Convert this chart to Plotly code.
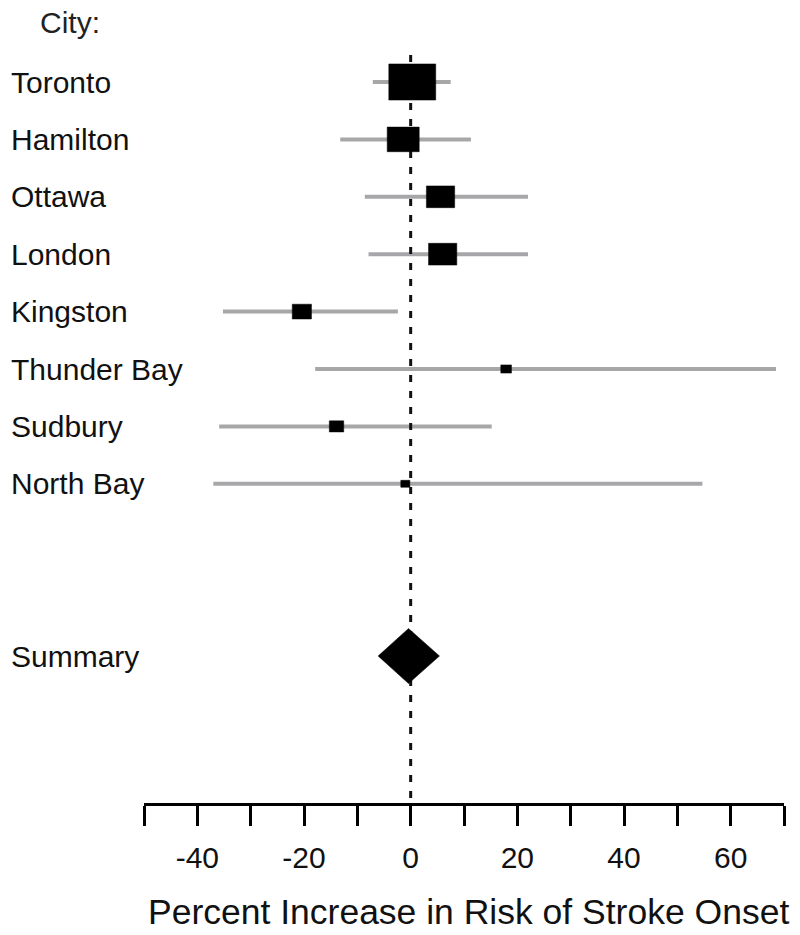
import plotly.graph_objects as go

# ---------------- data ----------------
cities = ["Toronto", "Hamilton", "Ottawa", "London", "Kingston",
          "Thunder Bay", "Sudbury", "North Bay"]
estimate = [0.3, -1.4, 5.6, 6.0, -20.4, 17.9, -13.9, -1.0]
ci_low = [-7.1, -13.2, -8.6, -7.9, -35.2, -17.9, -35.9, -37.0]
ci_high = [7.5, 11.3, 22.0, 22.0, -2.4, 68.5, 15.2, 54.7]
weight = [8.8, 6.0, 5.3, 5.3, 3.6, 2.0, 2.7, 1.7]   # box width, percent units

summary_label = "Summary"
summary_est = -0.4
summary_low = -6.1
summary_high = 5.4

tick_values = [-50, -40, -30, -20, -10, 0, 10, 20, 30, 40, 50, 60, 70]
tick_labels = ["", "-40", "", "-20", "", "0", "", "20", "", "40", "", "60", ""]

x_title = "Percent Increase in Risk of Stroke Onset"
header = "City:"

# ---------------- layout constants ----------------
W, H = 800, 935
L, R, B, T = 144, 16, 132, 0
plot_h = H - B - T           # 803
row_px = 57.4
first_row_px = 82
rows = list(range(1, len(cities) + 1))
summary_row = len(cities) + 3
y_top = 1 - first_row_px / row_px
y_bottom = 1 + (plot_h - first_row_px) / row_px
px_x = (W - L - R) / (tick_values[-1] - tick_values[0])
box_aspect = 0.77            # box height / width in pixels

FONT = "Liberation Sans, Arial, Helvetica, sans-serif"

fig = go.Figure()

# CI lines
ci_x, ci_y = [], []
for r, a, b in zip(rows, ci_low, ci_high):
    ci_x += [a, b, None]
    ci_y += [r, r, None]
fig.add_trace(go.Scatter(x=ci_x, y=ci_y, mode="lines",
                         line=dict(color="#a7a7aa", width=4),
                         hoverinfo="skip", showlegend=False))

# Null line (dotted) at 0
fig.add_trace(go.Scatter(x=[0, 0], y=[0.53, y_bottom], mode="lines",
                         line=dict(color="#111111", width=3, dash="7px,9px"),
                         hoverinfo="skip", showlegend=False))

# Boxes
bx, by = [], []
for r, e, w in zip(rows, estimate, weight):
    hw = w / 2
    hh = (w * px_x * box_aspect) / row_px / 2
    bx += [e - hw, e + hw, e + hw, e - hw, e - hw, None]
    by += [r - hh, r - hh, r + hh, r + hh, r - hh, None]
fig.add_trace(go.Scatter(x=bx, y=by, mode="lines", fill="toself",
                         fillcolor="black", line=dict(color="black", width=0.5),
                         hoverinfo="skip", showlegend=False))

# Summary diamond
dh = 27.5 / row_px
fig.add_trace(go.Scatter(
    x=[summary_low, summary_est, summary_high, summary_est, summary_low],
    y=[summary_row, summary_row - dh, summary_row, summary_row + dh, summary_row],
    mode="lines", fill="toself", fillcolor="black",
    line=dict(color="black", width=0.5), hoverinfo="skip", showlegend=False))

# Row labels
label_x = (9 - L) / (W - L - R)
for r, c in zip(rows, cities):
    fig.add_annotation(x=label_x, xref="paper", y=r, yref="y", text=c,
                       showarrow=False, xanchor="left", yanchor="middle",
                       font=dict(family=FONT, size=30, color="#111111"))
fig.add_annotation(x=label_x, xref="paper", y=summary_row, yref="y",
                   text=summary_label, showarrow=False, xanchor="left",
                   yanchor="middle", font=dict(family=FONT, size=30, color="#111111"))
fig.add_annotation(x=(38 - L) / (W - L - R), xref="paper", y=-0.03, yref="y",
                   text=header, showarrow=False, xanchor="left", yanchor="middle",
                   font=dict(family=FONT, size=30, color="#222222"))

# Axis title
fig.add_annotation(x=0.5, xref="paper", xshift=4, y=(plot_h - 912) / plot_h,
                   yref="paper", text=x_title, showarrow=False,
                   xanchor="center", yanchor="middle",
                   font=dict(family=FONT, size=35.5, color="#111111"))

fig.update_layout(
    width=W, height=H,
    margin=dict(l=L, r=R, t=T, b=B, pad=0),
    paper_bgcolor="white", plot_bgcolor="white",
    xaxis=dict(range=[tick_values[0], tick_values[-1]], tickmode="array",
               tickvals=tick_values, ticktext=tick_labels,
               showgrid=False, zeroline=False, showline=True,
               linecolor="black", linewidth=3, ticks="outside",
               ticklen=20, tickwidth=3, tickcolor="black",
               tickfont=dict(family=FONT, size=30, color="#111111"),
               ticklabelstandoff=6, fixedrange=True),
    yaxis=dict(range=[y_bottom, y_top], showgrid=False, zeroline=False,
               showline=False, showticklabels=False, ticks="",
               fixedrange=True),
    showlegend=False,
)

fig.write_html("out.html", config={"displayModeBar": False},
               post_script="document.body.style.margin='0';document.body.style.overflow='hidden';")
